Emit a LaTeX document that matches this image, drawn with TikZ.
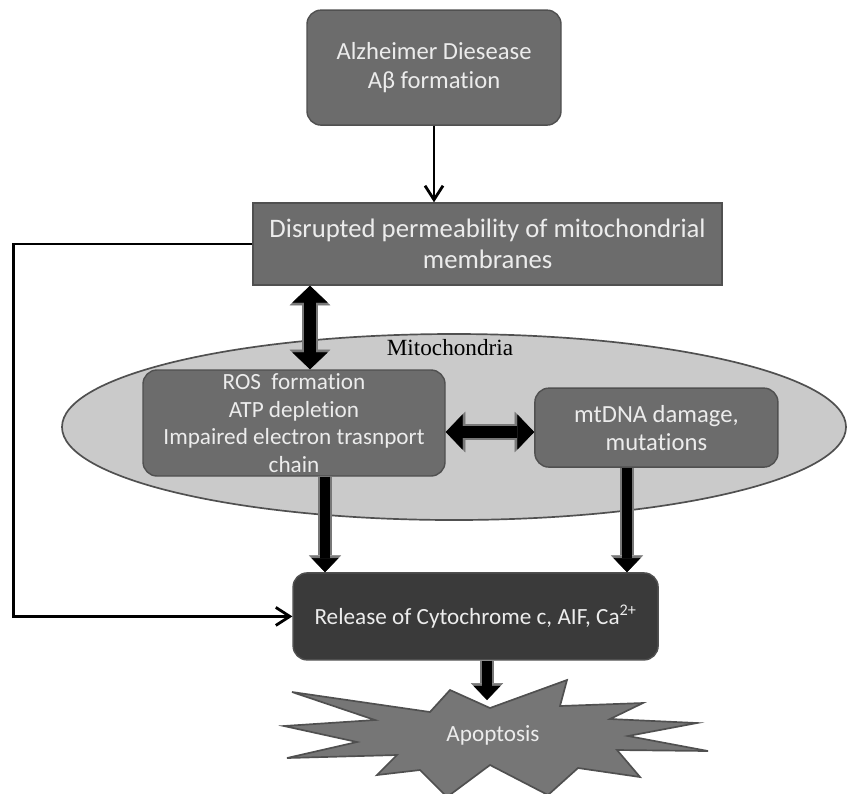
\documentclass[tikz,border=0pt]{standalone}
\usepackage{fontspec}
\setmainfont{Carlito}[Ligatures=NoCommon]
\newfontfamily\mitofont{Liberation Serif}
\usetikzlibrary{arrows.meta, positioning, calc, shapes.geometric}
\definecolor{boxgray}{RGB}{108,108,108}
\definecolor{edgegray}{RGB}{80,80,80}
\definecolor{releasegray}{RGB}{58,58,58}
\definecolor{mitogray}{RGB}{202,202,202}
\definecolor{burstgray}{RGB}{118,118,118}
\definecolor{textgray}{RGB}{236,236,236}
\definecolor{rimgray}{RGB}{120,120,120}

\begin{document}
\begin{tikzpicture}[
    stepbox/.style={draw=edgegray, line width=1pt, fill=boxgray, text=textgray, align=center, inner sep=0pt, font=\fontsize{16.5}{19.5}\selectfont},
    roundbox/.style={stepbox, rounded corners=10pt},
    thinarrow/.style={-{Straight Barb[length=3.5mm, width=4.5mm]}, line width=2pt},
    blockboth/.style={line width=9pt, {Triangle[length=12pt, width=25pt, line width=0.4pt]}-{Triangle[length=12pt, width=25pt, line width=0.4pt]},
        preaction={draw=rimgray, line width=11.5pt, {Triangle[length=14pt, width=29pt, line width=0.4pt]}-{Triangle[length=14pt, width=29pt, line width=0.4pt]}}},
    blockarrow/.style={line width=7pt, -{Triangle[length=10pt, width=19pt, line width=0.4pt]},
        preaction={draw=rimgray, line width=9.5pt, -{Triangle[length=12pt, width=23pt, line width=0.4pt]}}}
]

\useasboundingbox (0,0) rectangle (21.2,-19.825);

% Mitochondria
\node[ellipse, draw=edgegray, line width=1.2pt, fill=mitogray, minimum width=19.6cm, minimum height=4.65cm, inner sep=0pt] (mito) at (11.35,-10.675) {};
\node[font=\mitofont\fontsize{16.5}{20}\selectfont] (mitolabel) at (11.25,-8.7) {Mitochondria};

% Boxes
\node[roundbox, minimum width=6.35cm, minimum height=2.875cm, font=\fontsize{17.5}{21}\selectfont] (alz) at (10.85,-1.69) {Alzheimer Diesease\\Aβ formation};
\node[stepbox, minimum width=11.725cm, minimum height=2.05cm, font=\fontsize{19}{22.5}\selectfont] (dis) at (12.19,-6.1) {Disrupted permeability of mitochondrial\\membranes};
\node[roundbox, minimum width=7.55cm, minimum height=2.65cm] (ros) at (7.35,-10.575) {ROS\ \ formation\\ATP depletion\\Impaired electron trasnport\\chain};
\node[roundbox, minimum width=6.075cm, minimum height=1.975cm, font=\fontsize{17.5}{20}\selectfont] (mtdna) at (16.41,-10.69) {mtDNA damage,\\mutations};
\node[roundbox, fill=releasegray, minimum width=9.125cm, minimum height=2.175cm] (rel) at (11.89,-15.41) {Release of Cytochrome c, AIF, Ca\textsuperscript{2+}};

% Apoptosis burst
\draw[draw=edgegray, line width=1.2pt, fill=burstgray, line join=miter]
    (7.30,-17.30) -- (10.75,-17.80) -- (11.25,-17.25) -- (12.25,-17.70) -- (14.175,-17.00)
    -- (14.00,-17.65) -- (16.075,-17.575) -- (15.25,-17.975) -- (17.425,-18.075) -- (15.70,-18.40)
    -- (17.70,-18.775) -- (15.425,-18.75) -- (16.00,-19.425) -- (14.45,-19.20) -- (13.70,-19.875)
    -- (12.25,-19.125) -- (11.175,-19.925) -- (10.50,-19.25) -- (9.425,-19.375) -- (9.925,-18.875)
    -- (7.175,-18.95) -- (8.925,-18.55) -- (7.10,-18.15) -- (9.375,-18.00) -- cycle;
\node[text=textgray, font=\fontsize{16.5}{19.5}\selectfont] (apo) at (12.325,-18.375) {Apoptosis};

% Helper coordinates
\coordinate (loop) at (0.33,0);
\coordinate (xdbl) at (7.75,0);
\coordinate (ydbl) at (0,-10.8);
\coordinate (xros) at (8.125,0);
\coordinate (xmt) at (15.675,0);
\coordinate (xapo) at (12.175,0);
\coordinate (apotop) at (12.175,-17.5);

% Connectors
\draw[thinarrow] (alz.south) -- (alz.south |- dis.north);
\draw[thinarrow] (dis.west) -- (dis.west -| loop) |- (rel.west);
\draw[blockboth] (dis.south -| xdbl) -- (ros.north -| xdbl);
\draw[blockboth] (ros.east |- ydbl) -- (mtdna.west |- ydbl);
\draw[blockarrow] (ros.south -| xros) -- (rel.north -| xros);
\draw[blockarrow] (mtdna.south -| xmt) -- (rel.north -| xmt);
\draw[blockarrow] (rel.south -| xapo) -- (apotop);

\end{tikzpicture}
\end{document}
